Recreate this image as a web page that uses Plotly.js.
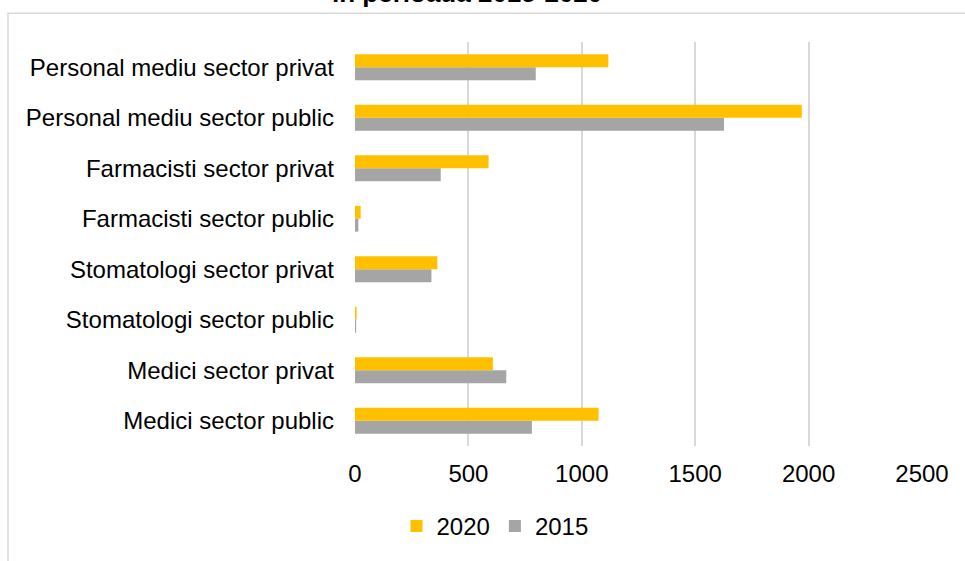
<!DOCTYPE html>
<html>
<head>
<meta charset="utf-8">
<script src="https://cdn.plot.ly/plotly-3.0.1.min.js"></script>
<style>
html,body{margin:0;padding:0;background:#fff;overflow:hidden;}
#chart{width:965px;height:561px;}
</style>
</head>
<body>
<div id="chart"></div>
<script>
var categories = [
  "Medici sector public",
  "Medici sector privat",
  "Stomatologi sector public",
  "Stomatologi sector privat",
  "Farmacisti sector public",
  "Farmacisti sector privat",
  "Personal mediu sector public",
  "Personal mediu sector privat"
];
var values2020 = [1074, 608, 7, 363, 25, 589, 1970, 1117];
var values2015 = [780, 667, 5, 337, 15, 378, 1627, 797];
var xTicks = [0, 500, 1000, 1500, 2000, 2500];
var titleText = "în perioada 2015-2020";

var FONT = "Liberation Sans, Arial, sans-serif";

var traces = [
  {type: "bar", orientation: "h", name: "2015", y: categories, x: values2015,
   marker: {color: "#A5A5A5"}, hoverinfo: "x+y"},
  {type: "bar", orientation: "h", name: "2020", y: categories, x: values2020,
   marker: {color: "#FFC000"}, hoverinfo: "x+y"}
];

var L = 355, R = 43, T = 42, B = 112, W = 965, H = 561;
var pw = W - L - R, ph = H - T - B;
function px2x(p){ return (p - L) / pw; }
function py2y(p){ return (H - B - p) / ph; }

var layout = {
  width: W, height: H,
  margin: {l: L, r: R, t: T, b: B, pad: 0},
  paper_bgcolor: "#ffffff",
  plot_bgcolor: "#ffffff",
  font: {family: FONT, size: 24, color: "#000000"},
  barmode: "group",
  bargap: 0.49,
  bargroupgap: 0,
  showlegend: true,
  legend: {
    orientation: "h", traceorder: "reversed",
    x: px2x(495), xanchor: "center", y: py2y(530), yanchor: "middle",
    font: {family: FONT, size: 24, color: "#000"},
    itemwidth: 30, bgcolor: "rgba(0,0,0,0)"
  },
  xaxis: {
    range: [0, 2500], tickvals: xTicks, ticktext: xTicks.map(String),
    showgrid: true, gridcolor: "#d9d9d9", gridwidth: 2,
    zeroline: false, showline: false, ticks: "",
    ticklabelstandoff: 11,
    tickfont: {family: FONT, size: 24, color: "#000"},
    fixedrange: true
  },
  yaxis: {
    type: "category", categoryorder: "array", categoryarray: categories,
    showgrid: false, zeroline: false, showline: false, ticks: "",
    ticklabelstandoff: 20,
    tickfont: {family: FONT, size: 24, color: "#000"},
    fixedrange: true
  },
  shapes: [{
    type: "rect", xref: "paper", yref: "paper",
    x0: px2x(8), x1: px2x(1100), y0: py2y(700), y1: py2y(13),
    line: {color: "#d9d9d9", width: 1.5}, fillcolor: "rgba(0,0,0,0)", layer: "below"
  }],
  annotations: [{
    text: "<b>" + titleText + "</b>", xref: "paper", yref: "paper",
    x: px2x(466), xanchor: "center", y: py2y(10), yanchor: "bottom",
    showarrow: false, font: {family: FONT, size: 26, color: "#000"}
  }]
};

Plotly.newPlot("chart", traces, layout, {displayModeBar: false, staticPlot: true});
</script>
</body>
</html>
